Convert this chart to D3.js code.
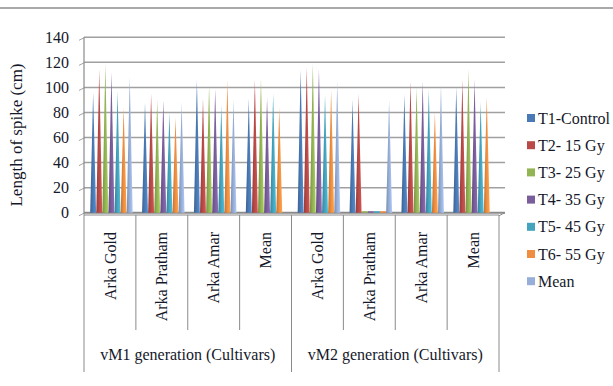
<!DOCTYPE html>
<html><head><meta charset="utf-8">
<script src="https://cdn.jsdelivr.net/npm/d3@7"></script>
<style>body{margin:0;background:#fff}svg{display:block}</style>
</head><body>
<svg id="c" width="613" height="386"></svg>
<script>
const groups = ["vM1 generation (Cultivars)", "vM2 generation (Cultivars)"];
const cultivars = ["Arka Gold", "Arka Pratham", "Arka Amar", "Mean"];
const seriesNames = ["T1-Control", "T2- 15 Gy", "T3- 25 Gy", "T4- 35 Gy", "T5- 45 Gy", "T6- 55 Gy", "Mean"];
const colors = ["#4A7AB5", "#B94A47", "#93B453", "#7A5E9C", "#44A4BE", "#EF8E40", "#97AFD8"];
const yTicks = [0, 20, 40, 60, 80, 100, 120, 140];
// values per category (vM1: Gold, Pratham, Amar, Mean; vM2: Gold, Pratham, Amar, Mean), per series T1..T6, Mean
const vM1Values = [
  [96, 114, 119, 112.5, 97, 84, 108.5],
  [88, 95, 90, 90, 80, 76, 88],
  [106, 91, 102, 99, 86, 106, 90],
  [91, 106, 107, 92, 95, 84, null]
];
const vM2Values = [
  [114, 116, 119, 114.5, 94, 98, 105],
  [90, 95, 0, 0, 0, 0, 90],
  [94.5, 105, 100, 105, 98, 80, 102],
  [100.5, 106, 114.5, 106.5, 88, 92.5, null]
];

const svg = d3.select("#c");
const font = "'Liberation Serif','Times New Roman',serif";
const fs = 16;
const textCol = "#15182a";

const cats = [];
groups.forEach((g, gi) => cultivars.forEach((c, ci) => cats.push({id: gi + "-" + ci, group: gi, name: c,
  vals: (gi === 0 ? vM1Values : vM2Values)[ci]})));

const x = d3.scaleBand().domain(cats.map(d => d.id)).range([84, 499]).padding(0);
const bw = x.bandwidth();
const xi = d3.scaleBand().domain(seriesNames).range([6, bw - 3]).padding(0.03);
const y = d3.scaleLinear().domain([0, 140]).range([212.7, 37.3]);
const gridRight = 505;

// top border line
svg.append("line").attr("x1", 0).attr("x2", 613).attr("y1", 8).attr("y2", 8)
  .attr("stroke", "#8c8c8c").attr("stroke-width", 1.5);

// gridlines
svg.append("g").selectAll("line").data(yTicks).join("line")
  .attr("x1", 84).attr("x2", gridRight).attr("y1", d => y(d)).attr("y2", d => y(d))
  .attr("stroke", d => d === 0 ? "#8a8a8a" : "#a0a0a0").attr("stroke-width", d => d === 0 ? 2 : 1.5);
// left wall diagonal stubs
svg.append("g").selectAll("line").data(yTicks).join("line")
  .attr("x1", 79).attr("x2", 85).attr("y1", d => y(d) + 3).attr("y2", d => y(d))
  .attr("stroke", "#a3a3a3").attr("stroke-width", 1);
svg.append("line").attr("x1", gridRight).attr("y1", y(0)).attr("x2", 499).attr("y2", y(0) + 3)
  .attr("stroke", "#8a8a8a").attr("stroke-width", 1);
// y axis line
svg.append("line").attr("x1", 84).attr("x2", 84).attr("y1", y(140)).attr("y2", y(0) + 2)
  .attr("stroke", "#8a8a8a").attr("stroke-width", 1.2);

// y tick labels
svg.append("g").selectAll("text").data(yTicks).join("text")
  .attr("x", 69).attr("y", d => y(d)).attr("dy", "0.35em").attr("text-anchor", "end")
  .attr("font-family", font).attr("font-size", fs).attr("fill", textCol).text(d => d);

// y title
svg.append("text").attr("transform", `translate(22,${(y(0) + y(140)) / 2 + 10}) rotate(-90)`)
  .attr("text-anchor", "middle").attr("font-family", font).attr("font-size", 17).attr("fill", textCol)
  .text("Length of spike (cm)");

// gradients
const defs = svg.append("defs");
colors.forEach((c, i) => {
  const g = defs.append("linearGradient").attr("id", "g" + i).attr("x1", 0).attr("x2", 1).attr("y1", 0).attr("y2", 0);
  g.append("stop").attr("offset", "0%").attr("stop-color", d3.color(c).darker(0.6));
  g.append("stop").attr("offset", "50%").attr("stop-color", c);
  g.append("stop").attr("offset", "100%").attr("stop-color", d3.color(c).brighter(0.4));
  const f = defs.append("linearGradient").attr("id", "f" + i).attr("x1", 0).attr("x2", 0).attr("y1", 0).attr("y2", 1);
  f.append("stop").attr("offset", "0%").attr("stop-color", "#fff").attr("stop-opacity", 0.5);
  f.append("stop").attr("offset", "12%").attr("stop-color", "#fff").attr("stop-opacity", 0);
});

// cones
const bars = [];
cats.forEach(cat => cat.vals.forEach((v, si) => { if (v !== null) bars.push({cat, si, v}); }));
const barG = svg.append("g");
bars.forEach(b => {
  const cx = x(b.cat.id) + xi(seriesNames[b.si]) + xi.bandwidth() / 2;
  const half = xi.bandwidth() / 2;
  if (b.v === 0) {
    barG.append("rect").attr("x", cx - half).attr("y", y(0) - 1.5).attr("width", half * 2).attr("height", 1.5)
      .attr("fill", colors[b.si]);
    return;
  }
  const pts = `${cx - half},${y(0)} ${cx},${y(b.v)} ${cx + half},${y(0)}`;
  barG.append("polygon").attr("points", pts).attr("fill", `url(#g${b.si})`);
  barG.append("polygon").attr("points", pts).attr("fill", `url(#f${b.si})`);
});

// category axis
svg.append("line").attr("x1", 84).attr("x2", 499).attr("y1", 215).attr("y2", 215)
  .attr("stroke", "#8a8a8a").attr("stroke-width", 1);
const bounds = d3.range(cats.length + 1).map(i => 84 + i * bw);
svg.append("g").selectAll("line").data(bounds).join("line")
  .attr("x1", d => d).attr("x2", d => d).attr("y1", 215)
  .attr("y2", (d, i) => i % cultivars.length === 0 ? 372 : 330)
  .attr("stroke", "#8a8a8a").attr("stroke-width", 1);

svg.append("g").selectAll("text").data(cats).join("text")
  .attr("transform", d => `translate(${x(d.id) + bw / 2},232) rotate(-90)`)
  .attr("text-anchor", "end").attr("dy", "0.35em")
  .attr("font-family", font).attr("font-size", fs).attr("fill", textCol).text(d => d.name);

svg.append("g").selectAll("text").data(groups).join("text")
  .attr("x", (d, i) => (bounds[i * 4] + bounds[i * 4 + 4]) / 2).attr("y", 360)
  .attr("text-anchor", "middle").attr("font-family", font).attr("font-size", fs).attr("fill", textCol).text(d => d);

// legend
const leg = svg.append("g").selectAll("g").data(seriesNames).join("g")
  .attr("transform", (d, i) => `translate(527,${118 + i * 27.2})`);
leg.append("rect").attr("x", 0).attr("y", -4).attr("width", 8).attr("height", 8).attr("fill", (d, i) => colors[i]);
leg.append("text").attr("x", 11).attr("dy", "0.35em").attr("font-family", font).attr("font-size", fs)
  .attr("fill", textCol).text(d => d);
</script>
</body></html>
